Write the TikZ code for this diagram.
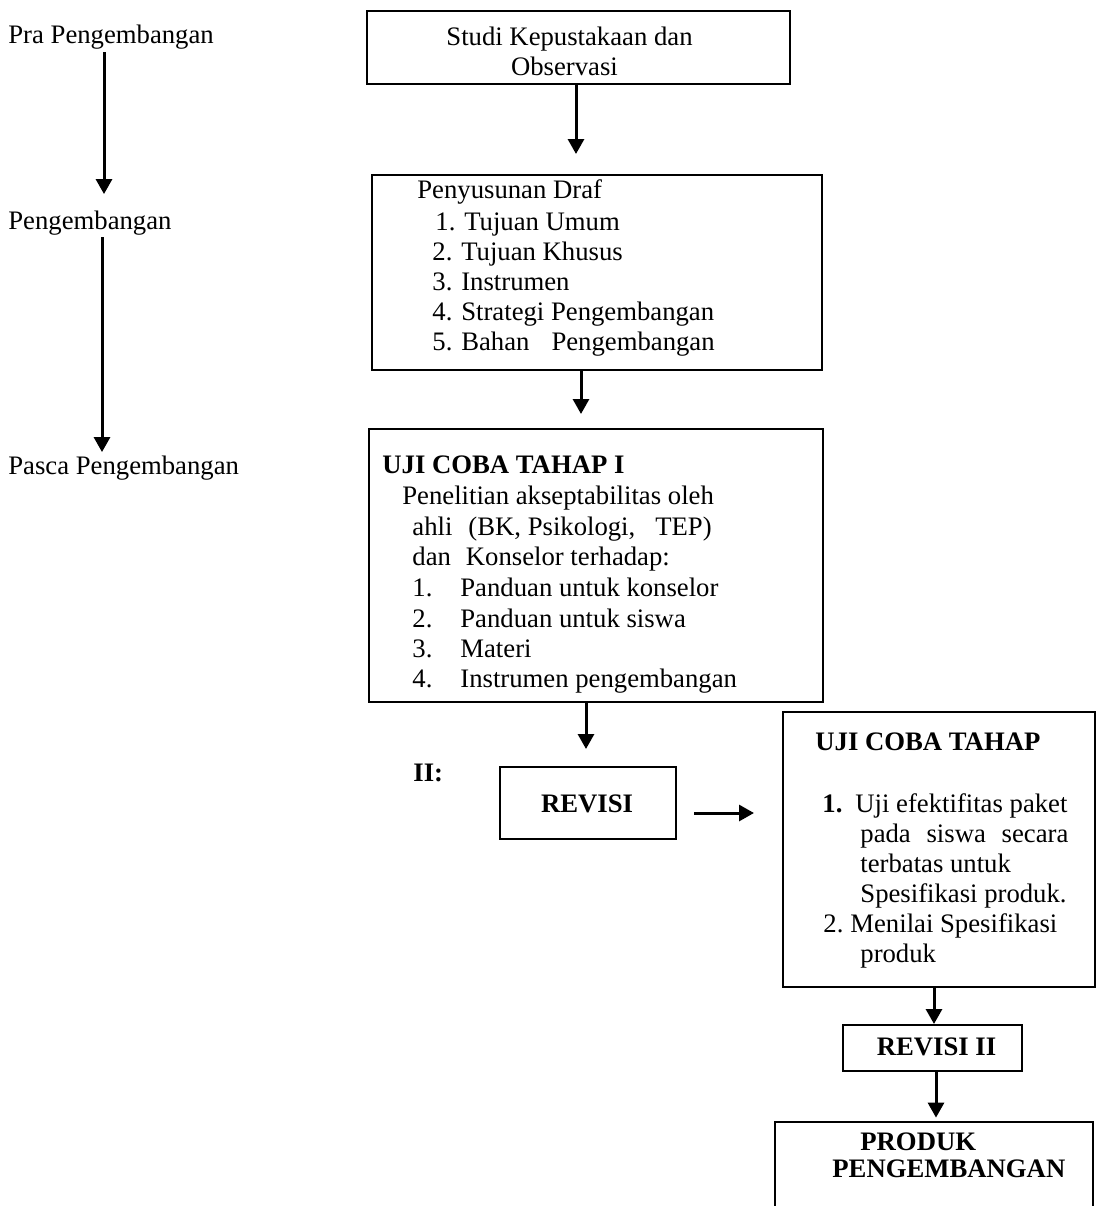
\documentclass[tikz,border=0pt]{standalone}
\usepackage{fontspec}
\setmainfont{Liberation Serif}
\usetikzlibrary{arrows.meta,fit}
\begin{document}
\begin{tikzpicture}[x=0.5pt,y=-0.5pt,
  txt/.style={anchor=base west,inner sep=0pt,font=\fontsize{13.35}{15}\selectfont},
  btxt/.style={txt,font=\fontsize{13.35}{15}\selectfont\bfseries},
  box/.style={draw,line width=1pt,inner sep=0pt},
  arr/.style={line width=1.5pt,-{Triangle[length=7.5pt,width=8pt]}}]
\useasboundingbox (0,0) rectangle (1096,1206);

% left stage labels
\node[txt] (pra) at (8,43) {Pra Pengembangan};
\node[txt] (peng) at (8,229) {Pengembangan};
\node[txt] (pasca) at (8,474) {Pasca Pengembangan};

% boxes
\node[box,fit={(367,11)(790,84)}] (b1) {};
\node[box,fit={(372,175)(822,370)}] (b2) {};
\node[box,fit={(369,429)(823,702)}] (b3) {};
\node[box,fit={(500,767)(676,839)}] (rev) {};
\node[box,fit={(783,712)(1095,987)}] (b4) {};
\node[box,fit={(843,1025)(1022,1071)}] (rev2) {};
\node[inner sep=0pt,fit={(775,1122)(1093,1215)}] (prod) {};
\draw[line width=1pt] (prod.south west) -- (prod.north west) -- (prod.north east) -- (prod.south east);

% box 1 text
\node[txt,anchor=base] (t1a) at (569.5,45) {Studi Kepustakaan dan};
\node[txt,anchor=base] (t1b) at (564.5,75) {Observasi};

% box 2 text
\node[txt] (t2a) at (417,198) {Penyusunan Draf};
\node[txt] (t2b) at (435,230) {1. Tujuan Umum};
\node[txt] (t2c) at (432,260) {2. Tujuan Khusus};
\node[txt] (t2d) at (432,290) {3. Instrumen};
\node[txt] (t2e) at (432,320) {4. Strategi Pengembangan};
\node[txt] (t2f) at (432,350) {5. Bahan\hspace{11pt}Pengembangan};

% box 3 text
\node[btxt] (t3a) at (382,473) {UJI COBA TAHAP I};
\node[txt] (t3b) at (402,504) {Penelitian akseptabilitas oleh};
\node[txt] (t3c) at (412,535) {ahli\hspace{8pt}(BK, Psikologi,\hspace{10pt}TEP)};
\node[txt] (t3d) at (412,565) {dan\hspace{7.5pt}Konselor terhadap:};
\node[txt] (n31) at (412,596) {1.};
\node[txt] (t31) at (460,596) {Panduan untuk konselor};
\node[txt] (n32) at (412,627) {2.};
\node[txt] (t32) at (460,627) {Panduan untuk siswa};
\node[txt] (n33) at (412,657) {3.};
\node[txt] (t33) at (460,657) {Materi};
\node[txt] (n34) at (412,687) {4.};
\node[txt] (t34) at (460,687) {Instrumen pengembangan};

% revisi
\node[btxt] (ii) at (413,781) {II:};
\node[btxt,anchor=base] (trev) at (587,812) {REVISI};

% box 4 text
\node[btxt] (t4a) at (815,750) {UJI COBA TAHAP};
\node[btxt] (n41) at (822,812) {1.};
\node[txt] (t41a) at (855,812) {Uji efektifitas paket};
\node[txt] (t41b) at (860,842) {\makebox[104pt][s]{pada siswa secara}};
\node[txt] (t41c) at (860,872) {terbatas untuk};
\node[txt] (t41d) at (860,902) {Spesifikasi produk.};
\node[txt] (n42) at (823,932) {2.};
\node[txt] (t42a) at (850,932) {Menilai Spesifikasi};
\node[txt] (t42b) at (860,962) {produk};

% revisi II and produk
\node[btxt,anchor=base] (trev2) at (936.5,1055) {REVISI II};
\node[btxt] (tp1) at (860,1150) {PRODUK};
\node[btxt] (tp2) at (832,1177) {PENGEMBANGAN};

% arrow columns
\coordinate (cL1) at (104,0);
\coordinate (cL2) at (102,0);
\coordinate (c1) at (576,0);
\coordinate (c2) at (581,0);
\coordinate (c3) at (586,0);
\coordinate (c4) at (934,0);
\coordinate (c5) at (936,0);
\coordinate (rR) at (0,813);

\draw[arr,shorten <=1.5pt,shorten >=8pt] (pra.south -| cL1) -- (peng.north -| cL1);
\draw[arr,shorten <=1pt,shorten >=1.5pt] (peng.south -| cL2) -- (pasca.north -| cL2);
\draw[arr,shorten >=10pt] (b1.south -| c1) -- (b2.north -| c1);
\draw[arr,shorten >=7pt] (b2.south -| c2) -- (b3.north -| c2);
\draw[arr,shorten >=8.5pt] (b3.south -| c3) -- (rev.north -| c3);
\draw[arr,shorten <=8.5pt,shorten >=14pt] (rev.east |- rR) -- (b4.west |- rR);
\draw[arr] (b4.south -| c4) -- (rev2.north -| c4);
\draw[arr,shorten >=2pt] (rev2.south -| c5) -- (prod.north -| c5);
\end{tikzpicture}
\end{document}
